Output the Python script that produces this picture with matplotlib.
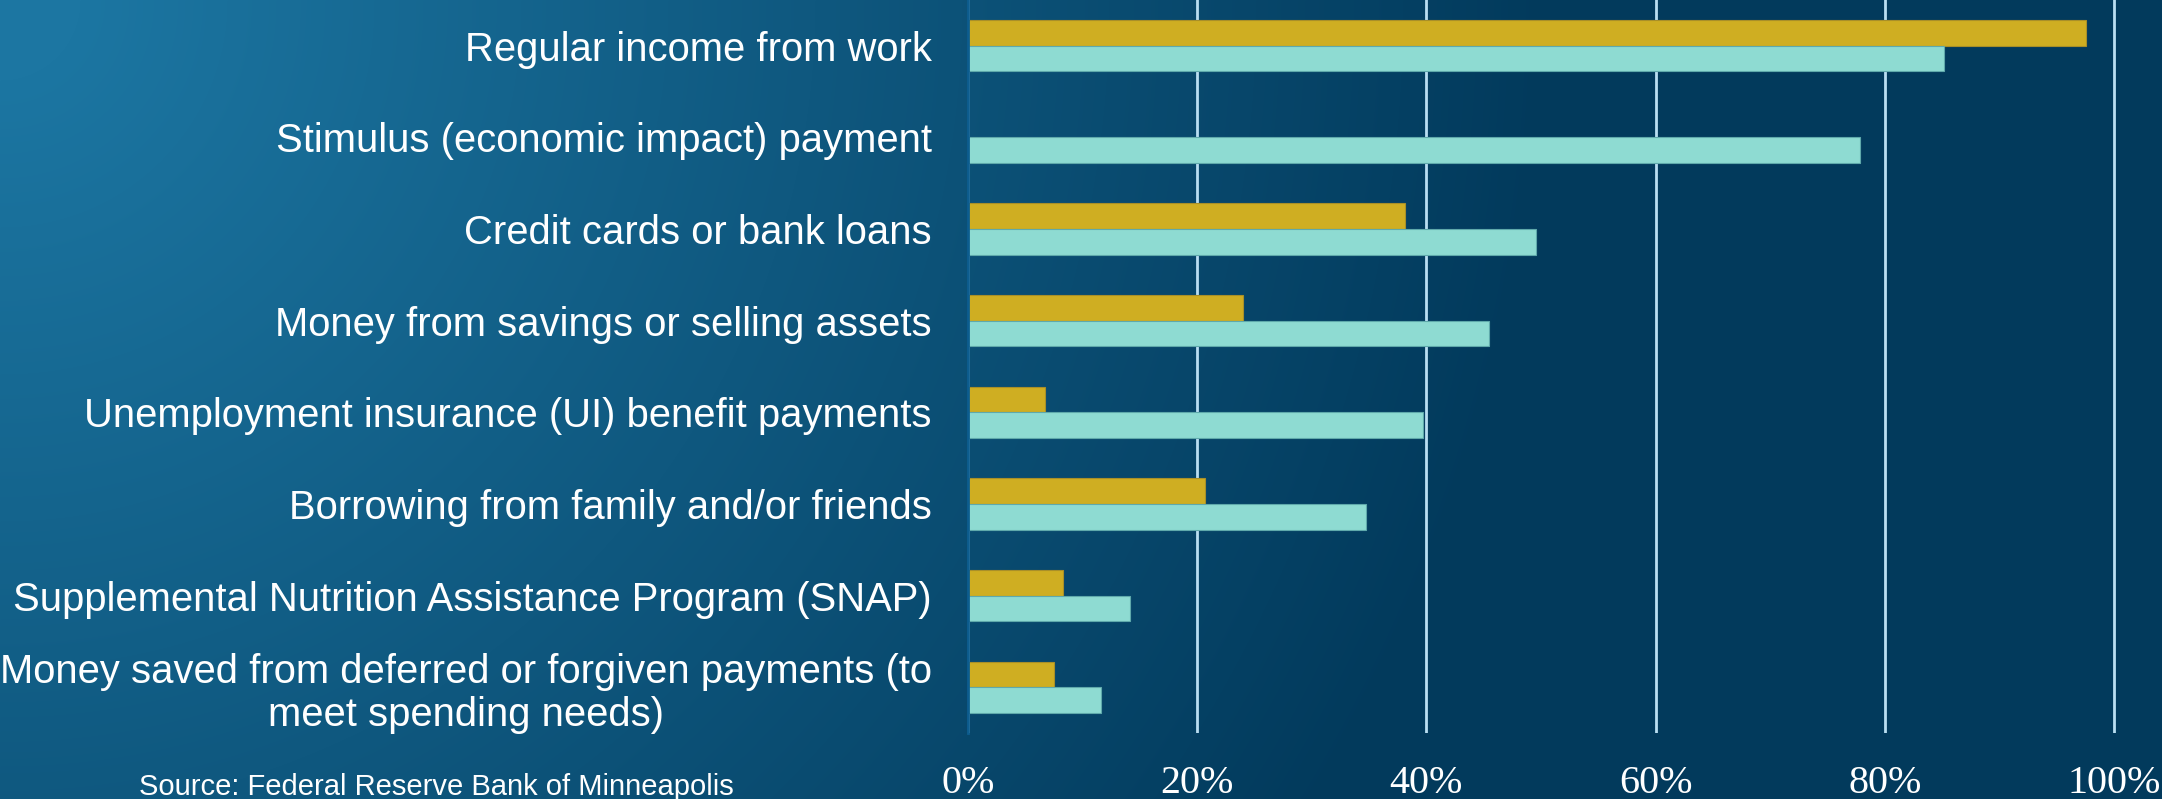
import numpy as np
import matplotlib
matplotlib.use("Agg")
import matplotlib.pyplot as plt
from matplotlib.colors import to_rgb

# data
categories = [
    "Regular income from work",
    "Stimulus (economic impact) payment",
    "Credit cards or bank loans",
    "Money from savings or selling assets",
    "Unemployment insurance (UI) benefit payments",
    "Borrowing from family and/or friends",
    "Supplemental Nutrition Assistance Program (SNAP)",
    "Money saved from deferred or forgiven payments (to\nmeet spending needs)",
]
gold_values = [97.6, 0, 38.1, 24.0, 6.7, 20.7, 8.3, 7.5]
teal_values = [85.2, 77.8, 49.6, 45.5, 39.7, 34.7, 14.1, 11.6]
xticks = [0, 20, 40, 60, 80, 100]
xtick_labels = ["0%", "20%", "40%", "60%", "80%", "100%"]
source = "Source: Federal Reserve Bank of Minneapolis"

W, H = 2162, 799
fig = plt.figure(figsize=(W / 100, H / 100), dpi=100)

# background: radial gradient from the top-left corner, light blue -> navy
bg = fig.add_axes([0, 0, 1, 1], zorder=-10)
xx, yy = np.meshgrid(np.arange(W), np.arange(H))
r = np.hypot(xx, yy)
t = np.clip((r - 80) / 1470.0, 0, 1)[..., None]
c0 = np.array(to_rgb("#1c76a2"))
c1 = np.array(to_rgb("#023a5c"))
img = c0 * (1 - t) + c1 * t
bg.imshow(img, aspect="auto", extent=[0, 1, 0, 1], interpolation="bilinear")
bg.axis("off")

# main axes: 0% at x=968px, 100% at x=2114px, bottom at y=733px
left = 968 / W
ax = fig.add_axes([left, 66 / H, 1 - left, 733 / H])
ax.set_facecolor("none")
xmax = 100 * (W - 968) / (2114 - 968)
ax.set_xlim(0, xmax)
ax.set_ylim(7.5, -0.5)

y = np.arange(len(categories))
h = 0.28
ax.barh(y - h / 2, gold_values, height=h, color="#cfae22", edgecolor="#a98f28", linewidth=0.8, zorder=3)
ax.barh(y + h / 2, teal_values, height=h, color="#8edbd2", edgecolor="#5fa9ab", linewidth=0.8, zorder=3)

ax.set_axisbelow(True)
ax.xaxis.grid(True, color="#b9def2", linewidth=2)
ax.set_xticks(xticks)
ax.set_xticklabels(xtick_labels, family="Liberation Serif", fontsize=28.8, color="white")
ax.tick_params(axis="x", length=0, pad=23)

ax.set_yticks(y)
ax.set_yticklabels(categories, family="Liberation Sans", fontsize=28.8, color="white", linespacing=1.15)
for lab in ax.get_yticklabels():
    lab.set_multialignment("center")
ax.tick_params(axis="y", length=0, pad=26)

for s in ["top", "right", "bottom"]:
    ax.spines[s].set_visible(False)
ax.spines["left"].set_color("#0d5d8f")
ax.spines["left"].set_linewidth(2)
ax.spines["left"].set_zorder(4)

fig.text(139 / W, 4 / H, source, family="Liberation Sans", fontsize=21, color="white", va="baseline", ha="left")

fig.savefig("out.png", dpi=100)
